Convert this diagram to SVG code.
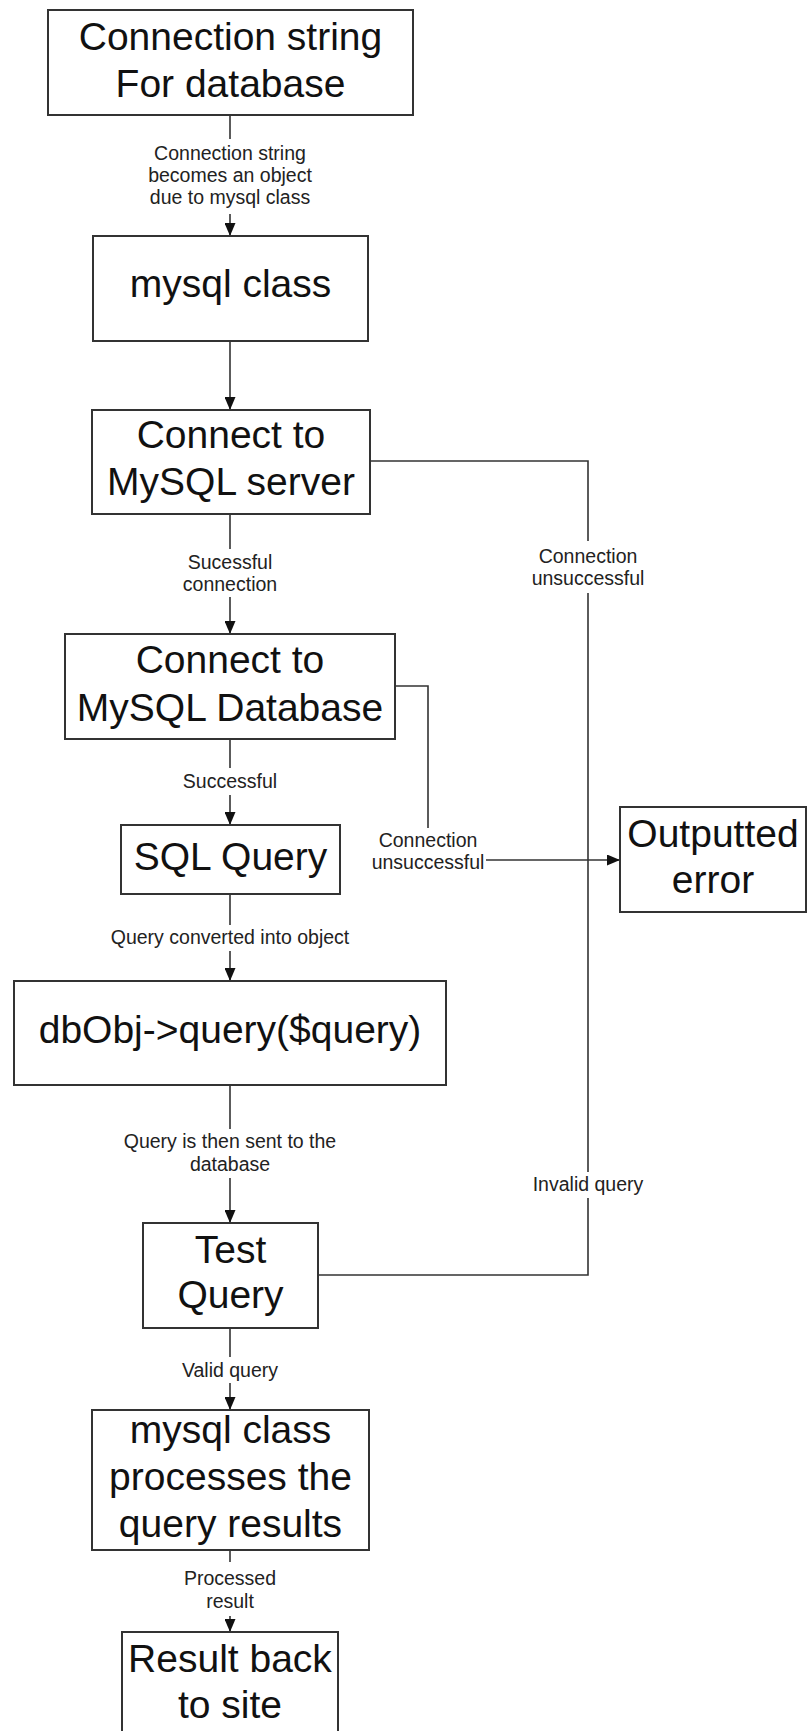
<svg xmlns="http://www.w3.org/2000/svg" width="808" height="1731" viewBox="0 0 808 1731">
<style>
.box{fill:#fff;stroke:#333;stroke-width:2}
.t{font-family:"Liberation Sans",Arial,sans-serif;font-size:39px;fill:#111;text-anchor:middle}
.l{font-family:"Liberation Sans",Arial,sans-serif;font-size:19.5px;fill:#222;text-anchor:middle}
.c{fill:none;stroke:#333;stroke-width:1.6}
</style>
<defs>
<marker id="ah" markerUnits="userSpaceOnUse" markerWidth="13" markerHeight="11" refX="13" refY="5.5" orient="auto">
<path d="M0,0 L13,5.5 L0,11 z" fill="#111"/>
</marker>
</defs>
<rect width="808" height="1731" fill="#fff"/>
<g id="connectors">
<path class="c" d="M230,115 V139"/>
<path class="c" d="M230,214 V236" marker-end="url(#ah)"/>
<path class="c" d="M230,341 V410" marker-end="url(#ah)"/>
<path class="c" d="M230,514 V549"/>
<path class="c" d="M230,597 V634" marker-end="url(#ah)"/>
<path class="c" d="M370,461 H588 V541"/>
<path class="c" d="M588,593 V1172"/>
<path class="c" d="M588,1198 V1275 H318"/>
<path class="c" d="M395,686 H428 V828"/>
<path class="c" d="M486,860 H620" marker-end="url(#ah)"/>
<path class="c" d="M230,739 V768"/>
<path class="c" d="M230,795 V825" marker-end="url(#ah)"/>
<path class="c" d="M230,894 V925"/>
<path class="c" d="M230,951 V981" marker-end="url(#ah)"/>
<path class="c" d="M230,1085 V1129"/>
<path class="c" d="M230,1178 V1223" marker-end="url(#ah)"/>
<path class="c" d="M230,1328 V1357"/>
<path class="c" d="M230,1383 V1410" marker-end="url(#ah)"/>
<path class="c" d="M230,1550 V1562"/>
<path class="c" d="M230,1616 V1632" marker-end="url(#ah)"/>
<text class="l" x="230" y="160">Connection string</text>
<text class="l" x="230" y="182">becomes an object</text>
<text class="l" x="230" y="204">due to mysql class</text>
<text class="l" x="230" y="569">Sucessful</text>
<text class="l" x="230" y="591">connection</text>
<text class="l" x="588" y="563">Connection</text>
<text class="l" x="588" y="585">unsuccessful</text>
<text class="l" x="230" y="788">Successful</text>
<text class="l" x="428" y="847">Connection</text>
<text class="l" x="428" y="869">unsuccessful</text>
<text class="l" x="230" y="944">Query converted into object</text>
<text class="l" x="230" y="1148">Query is then sent to the</text>
<text class="l" x="230" y="1171">database</text>
<text class="l" x="588" y="1191">Invalid query</text>
<text class="l" x="230" y="1377">Valid query</text>
<text class="l" x="230" y="1585">Processed</text>
<text class="l" x="230" y="1608">result</text>
</g>
<g id="n1"><rect class="box" x="48" y="10" width="365" height="105"/><text class="t" x="230.5" y="50">Connection string</text><text class="t" x="230.5" y="97">For database</text></g>
<g id="n2"><rect class="box" x="93" y="236" width="275" height="105"/><text class="t" x="230.5" y="297">mysql class</text></g>
<g id="n3"><rect class="box" x="92" y="410" width="278" height="104"/><text class="t" x="231" y="448">Connect to</text><text class="t" x="231" y="495">MySQL server</text></g>
<g id="n4"><rect class="box" x="65" y="634" width="330" height="105"/><text class="t" x="230" y="673">Connect to</text><text class="t" x="230" y="721">MySQL Database</text></g>
<g id="n5"><rect class="box" x="121" y="825" width="219" height="69"/><text class="t" x="230.5" y="870">SQL Query</text></g>
<g id="n6"><rect class="box" x="620" y="807" width="186" height="105"/><text class="t" x="713" y="847">Outputted</text><text class="t" x="713" y="893">error</text></g>
<g id="n7"><rect class="box" x="14" y="981" width="432" height="104"/><text class="t" x="230" y="1043">dbObj-&gt;query($query)</text></g>
<g id="n8"><rect class="box" x="143" y="1223" width="175" height="105"/><text class="t" x="230.5" y="1263">Test</text><text class="t" x="230.5" y="1308">Query</text></g>
<g id="n9"><rect class="box" x="92" y="1410" width="277" height="140"/><text class="t" x="230.5" y="1443">mysql class</text><text class="t" x="230.5" y="1490">processes the</text><text class="t" x="230.5" y="1537">query results</text></g>
<g id="n10"><rect class="box" x="122" y="1632" width="216" height="130"/><text class="t" x="230" y="1672">Result back</text><text class="t" x="230" y="1718">to site</text></g>
</svg>
